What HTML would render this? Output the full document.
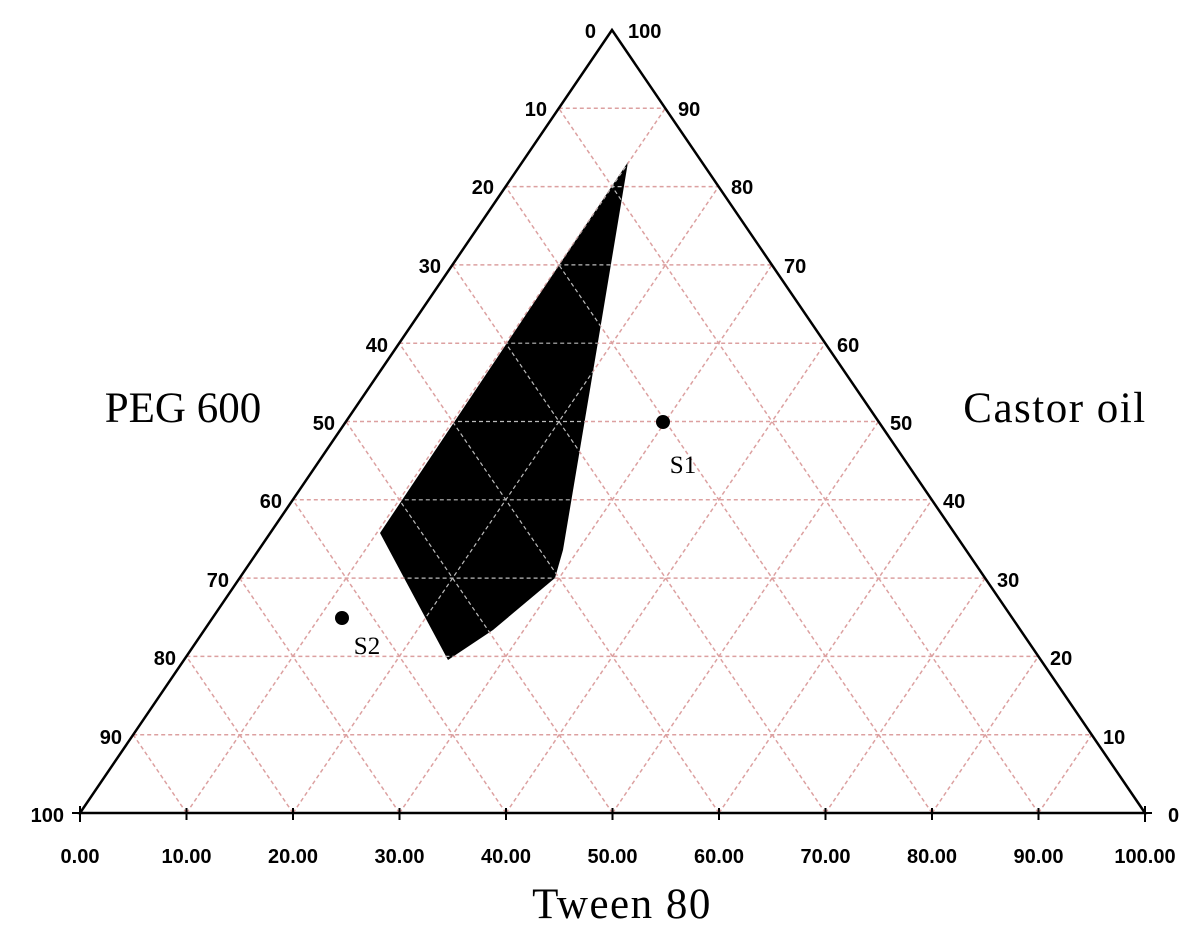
<!DOCTYPE html>
<html><head><style>body{margin:0;background:#fff}svg{display:block}</style></head>
<body>
<svg width="1200" height="936" xmlns="http://www.w3.org/2000/svg">
<defs>
<clipPath id="cp"><polygon points="628,162 600,330 563,550 555,578 493,630 448,660 380,533"/></clipPath>
<g id="grid">
<line x1="558.8" y1="108.3" x2="665.3" y2="108.3"/>
<line x1="505.6" y1="186.6" x2="718.6" y2="186.6"/>
<line x1="452.4" y1="264.9" x2="771.9" y2="264.9"/>
<line x1="399.2" y1="343.2" x2="825.2" y2="343.2"/>
<line x1="346" y1="421.5" x2="878.5" y2="421.5"/>
<line x1="292.8" y1="499.8" x2="931.8" y2="499.8"/>
<line x1="239.6" y1="578.1" x2="985.1" y2="578.1"/>
<line x1="186.4" y1="656.4" x2="1038.4" y2="656.4"/>
<line x1="133.2" y1="734.7" x2="1091.7" y2="734.7"/>
<line x1="186.5" y1="813" x2="665.3" y2="108.3"/>
<line x1="293" y1="813" x2="718.6" y2="186.6"/>
<line x1="399.5" y1="813" x2="771.9" y2="264.9"/>
<line x1="506" y1="813" x2="825.2" y2="343.2"/>
<line x1="612.5" y1="813" x2="878.5" y2="421.5"/>
<line x1="719" y1="813" x2="931.8" y2="499.8"/>
<line x1="825.5" y1="813" x2="985.1" y2="578.1"/>
<line x1="932" y1="813" x2="1038.4" y2="656.4"/>
<line x1="1038.5" y1="813" x2="1091.7" y2="734.7"/>
<line x1="186.5" y1="813" x2="133.2" y2="734.7"/>
<line x1="293" y1="813" x2="186.4" y2="656.4"/>
<line x1="399.5" y1="813" x2="239.6" y2="578.1"/>
<line x1="506" y1="813" x2="292.8" y2="499.8"/>
<line x1="612.5" y1="813" x2="346" y2="421.5"/>
<line x1="719" y1="813" x2="399.2" y2="343.2"/>
<line x1="825.5" y1="813" x2="452.4" y2="264.9"/>
<line x1="932" y1="813" x2="505.6" y2="186.6"/>
<line x1="1038.5" y1="813" x2="558.8" y2="108.3"/>
</g>
</defs>
<rect width="1200" height="936" fill="#fff"/>
<g stroke="#dca0a0" stroke-width="1.5" stroke-dasharray="4,3" fill="none"><use href="#grid"/></g>
<polygon points="628,162 600,330 563,550 555,578 493,630 448,660 380,533" fill="#000"/>
<g stroke="#bbb" stroke-width="1.2" stroke-dasharray="4,3" fill="none" clip-path="url(#cp)"><use href="#grid"/></g>
<polygon points="612,30 80,813 1145,813" fill="none" stroke="#000" stroke-width="2.5"/>
<g stroke="#000" stroke-width="2">
<line x1="80" y1="806" x2="80" y2="822"/><line x1="186.5" y1="808" x2="186.5" y2="820"/><line x1="293" y1="808" x2="293" y2="820"/><line x1="399.5" y1="808" x2="399.5" y2="820"/><line x1="506" y1="808" x2="506" y2="820"/><line x1="612.5" y1="808" x2="612.5" y2="820"/><line x1="719" y1="808" x2="719" y2="820"/><line x1="825.5" y1="808" x2="825.5" y2="820"/><line x1="932" y1="808" x2="932" y2="820"/><line x1="1038.5" y1="808" x2="1038.5" y2="820"/><line x1="1145" y1="806" x2="1145" y2="822"/>
<line x1="72" y1="813" x2="88" y2="813"/><line x1="1138" y1="813" x2="1152" y2="813"/>
</g>
<circle cx="663" cy="422" r="7" fill="#000"/>
<circle cx="342" cy="618" r="7" fill="#000"/>
<g font-family="Liberation Serif, serif" fill="#000">
<text x="683" y="473" font-size="25" text-anchor="middle">S1</text>
<text x="367" y="654" font-size="25" text-anchor="middle">S2</text>
<text x="183" y="422" font-size="43" text-anchor="middle">PEG 600</text>
<text x="1055" y="422" font-size="43" text-anchor="middle" letter-spacing="1.5">Castor oil</text>
<text x="622" y="918" font-size="43" text-anchor="middle" letter-spacing="1.5">Tween 80</text>
</g>
<g font-family="Liberation Sans, sans-serif" font-size="20" font-weight="bold" fill="#000">
<g text-anchor="end">
<text x="596" y="38">0</text><text x="547" y="116">10</text><text x="494" y="194">20</text><text x="441" y="273">30</text><text x="388" y="352">40</text><text x="335" y="430">50</text><text x="282" y="508">60</text><text x="229" y="587">70</text><text x="176" y="665">80</text><text x="122" y="744">90</text><text x="64" y="822">100</text>
</g>
<g text-anchor="start">
<text x="628" y="38">100</text><text x="678" y="116">90</text><text x="731" y="194">80</text><text x="784" y="273">70</text><text x="837" y="352">60</text><text x="890" y="430">50</text><text x="943" y="508">40</text><text x="997" y="587">30</text><text x="1050" y="665">20</text><text x="1103" y="744">10</text><text x="1168" y="822">0</text>
</g>
<g text-anchor="middle">
<text x="80" y="863">0.00</text><text x="186.5" y="863">10.00</text><text x="293" y="863">20.00</text><text x="399.5" y="863">30.00</text><text x="506" y="863">40.00</text><text x="612.5" y="863">50.00</text><text x="719" y="863">60.00</text><text x="825.5" y="863">70.00</text><text x="932" y="863">80.00</text><text x="1038.5" y="863">90.00</text><text x="1145" y="863">100.00</text>
</g>
</g>
</svg>
</body></html>
